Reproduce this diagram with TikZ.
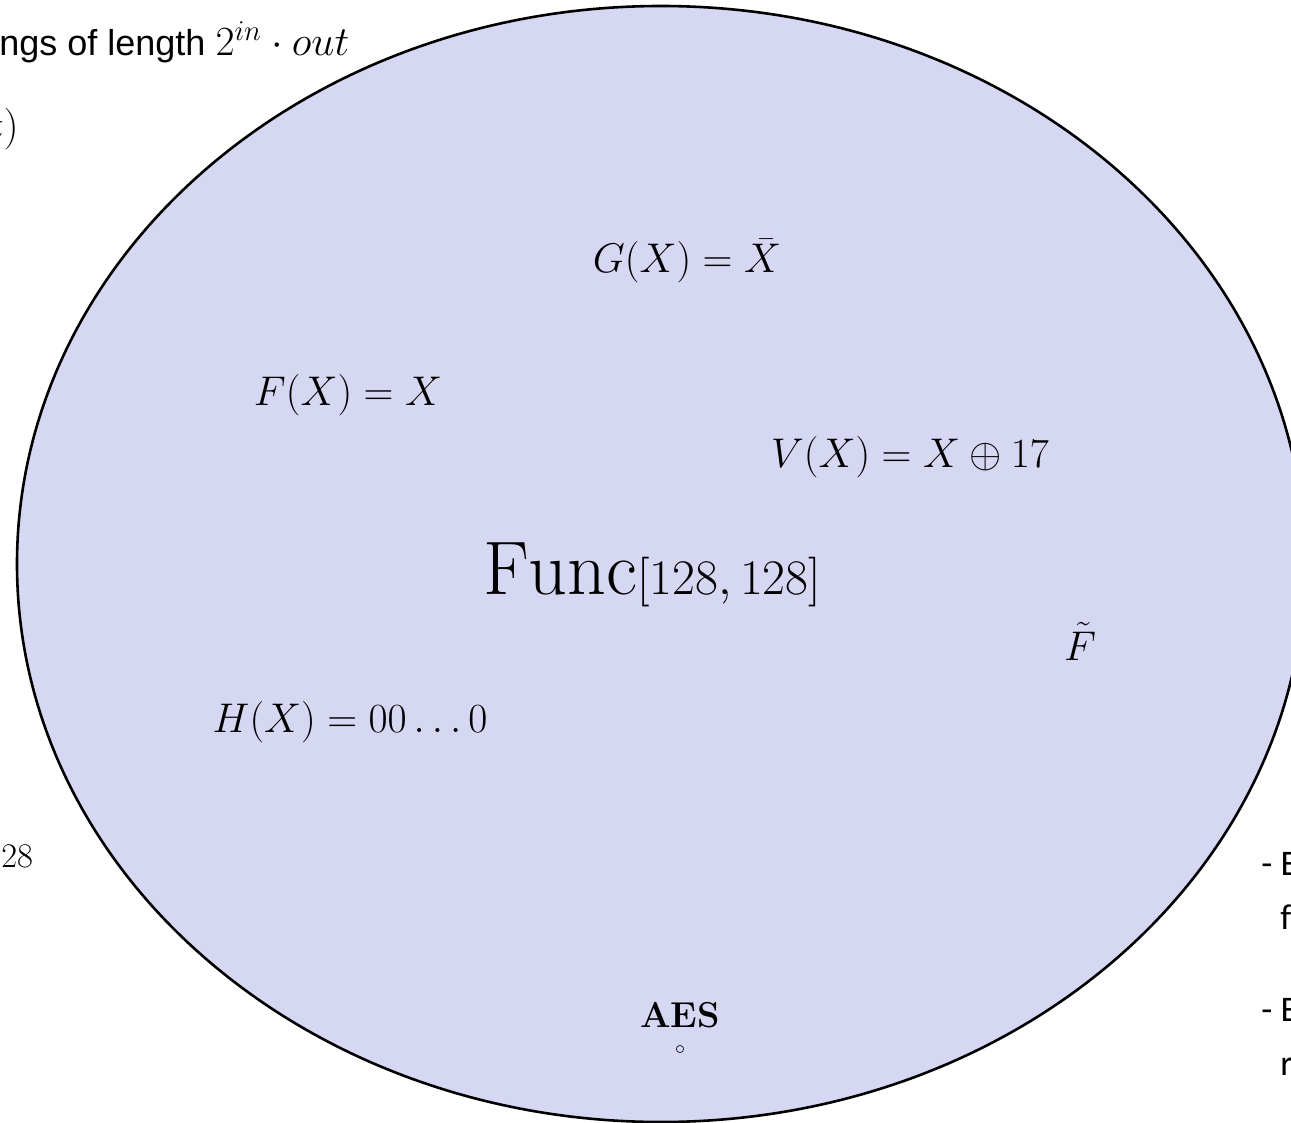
\documentclass[tikz,border=0pt]{standalone}
\usepackage{amsmath}
\usepackage{fontspec}
\usetikzlibrary{arrows.meta,positioning}
\newfontfamily\arialfont{Liberation Sans}
\newfontfamily\calfont{Carlito}
\definecolor{funcfill}{RGB}{214,215,243}

\begin{document}
\begin{tikzpicture}[x=0.5pt,y=-0.5pt,>=Stealth,
    fnlabel/.style={inner sep=0pt,anchor=base,font=\fontsize{20}{24}\selectfont},
    sidetext/.style={inner sep=0pt,anchor=base west,font=\calfont\fontsize{18}{22}\selectfont}]
  \useasboundingbox (0,0) rectangle (1291,1123);
  \clip (0,0) rectangle (1291,1123);
  % the set of all functions
  \draw[line width=1.3pt,fill=funcfill] (661,564) ellipse [x radius=322pt, y radius=279pt];
  % text cut off at the left edge
  \node[inner sep=0pt,anchor=base west,font=\arialfont\fontsize{18}{22}\selectfont]
      (lenline) at (-1,56) {ngs of length {\fontsize{20}{24}\selectfont$2^{in}\cdot out$}};
  \node[inner sep=0pt,anchor=base east,font=\fontsize{20}{24}\selectfont]
      (pairline) at (19,140) {$t)$};
  \node[inner sep=0pt,anchor=base west,font=\fontsize{17}{20}\selectfont]
      (expline) at (1,867) {$28$};
  % members of the set
  \node[fnlabel] (gfun) at (687,273) {$G(X)=\bar{X}$};
  \node[fnlabel] (ffun) at (348,405) {$F(X)=X$};
  \node[fnlabel] (vfun) at (910,467) {$V(X)=X\oplus 17$};
  \node[fnlabel] (hfun) at (350,732) {$H(X)=00\ldots0$};
  \node[fnlabel] (ftilde) at (1080,660) {$\tilde{F}$};
  \node[inner sep=0pt,anchor=base,font=\fontsize{38}{46}\selectfont]
      (funcname) at (652,594) {$\mathrm{Func}[128,128]$};
  \node[inner sep=0pt,anchor=base,font=\bfseries\fontsize{18}{22}\selectfont]
      (aes) at (680,1027) {AES};
  \node[inner sep=0pt,font=\fontsize{10}{12}\selectfont] (aesdot) at (680,1050) {$\circ$};
  % list cut off at the right edge
  \node[sidetext] (itemone) at (1261,875) {- E};
  \node[sidetext] (itemonecont) at (1280,929) {f};
  \node[sidetext] (itemtwo) at (1261,1021) {- E};
  \node[sidetext] (itemtwocont) at (1280,1075) {r};
\end{tikzpicture}
\end{document}
